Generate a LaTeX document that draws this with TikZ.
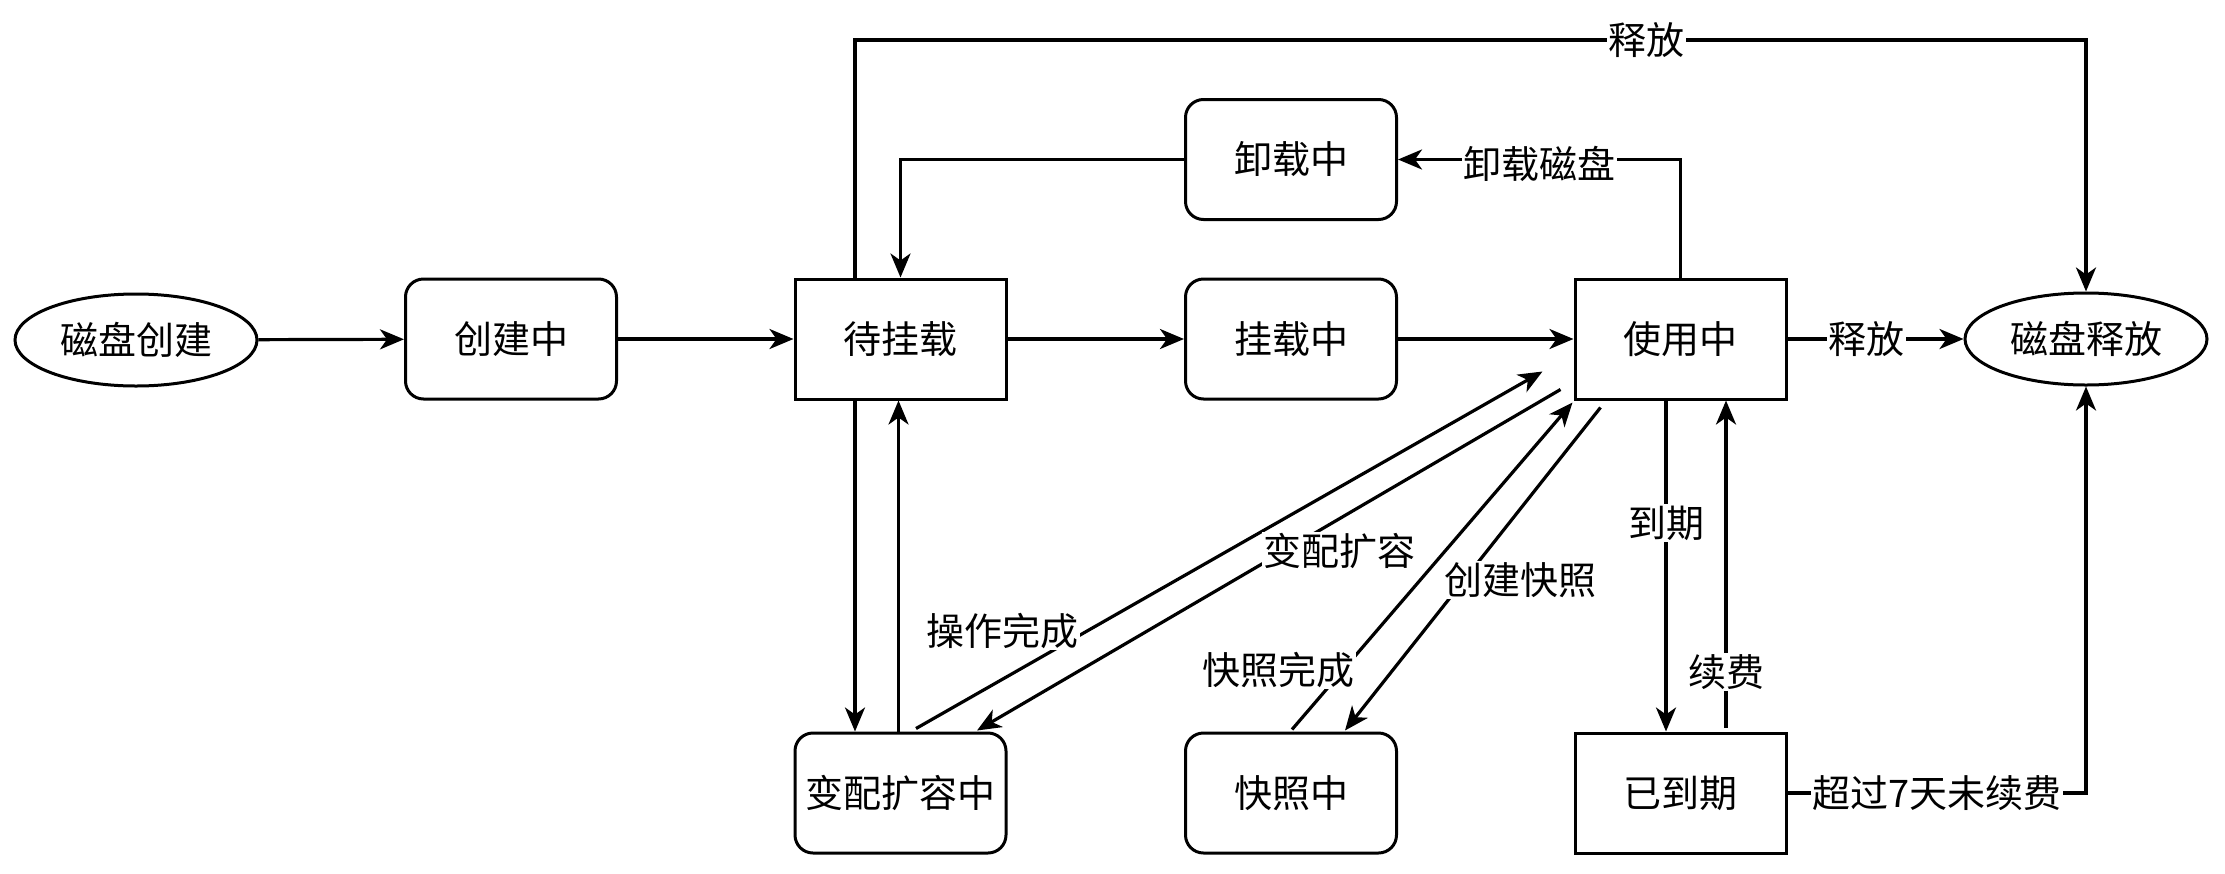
\documentclass[tikz,border=0pt]{standalone}
\usepackage{fontspec}
\setmainfont{Noto Sans CJK SC}
\usetikzlibrary{shapes.geometric,arrows.meta}
\begin{document}
\begin{tikzpicture}[x=1pt,y=-1pt,
  every node/.style={font=\fontsize{38}{44}\selectfont},
  box/.style={draw, line width=3pt, minimum width=211pt, minimum height=120pt, inner sep=0pt},
  rbox/.style={box, rounded corners=18pt},
  oval/.style={draw, ellipse, line width=3pt, minimum width=242pt, minimum height=92pt, inner sep=0pt},
  conn/.style={line width=3.2pt, -{Stealth[length=24pt,width=20pt,inset=7pt]}},
  lbl/.style={fill=white, inner sep=1.5pt}]
\useasboundingbox (0,0) rectangle (2225,873);

\node[oval] (start) at (136,340) {磁盘创建};
\node[rbox] (create) at (511,339) {创建中};
\node[box] (wait) at (900.5,339) {待挂载};
\node[rbox] (mount) at (1291,339) {挂载中};
\node[box] (use) at (1680.5,339) {使用中};
\node[oval] (rel) at (2086,339) {磁盘释放};
\node[rbox] (unmount) at (1291,159.5) {卸载中};
\node[rbox] (resize) at (900.5,793) {变配扩容中};
\node[rbox] (snap) at (1291,793) {快照中};
\node[box] (exp) at (1680.5,793) {已到期};

\coordinate (tl) at (855,40);
\coordinate (tr) at (2086,40);

\draw[conn] (start) -- (create);
\draw[conn] (create) -- (wait);
\draw[conn] (wait) -- (mount);
\draw[conn] (mount) -- (use);
\draw[conn] (use) -- node[lbl, pos=0.45]{释放} (rel);
\draw[conn] (wait.north -| tl) -- (tl) -- node[lbl, pos=0.643]{释放} (tr) -- (rel);
\draw[conn] (use.north) |- node[lbl, pos=0.75, yshift=-4pt]{卸载磁盘} (unmount.east);
\draw[conn] (unmount.west) -| (wait.north);
\draw[conn] ([xshift=-45.5pt]wait.south) -- ([xshift=-45.5pt]resize.north);
\draw[conn] ([xshift=-2pt]resize.north) -- ([xshift=-2pt]wait.south);
\draw[conn] ([shift={(15.5pt,3pt)}]resize.north) -- ([shift={(-31pt,29pt)}]use.south west);
\draw[conn] ([shift={(-13pt,11pt)}]use.south west) -- ([shift={(76.5pt,1pt)}]resize.north);
\draw[conn] ([shift={(1pt,2pt)}]snap.north) -- ([shift={(-1pt,-2pt)}]use.south west);
\draw[conn] ([shift={(27pt,-7pt)}]use.south west) -- ([shift={(54pt,1pt)}]snap.north);
\draw[conn] ([xshift=-14.5pt]use.south) -- node[lbl, pos=0.37]{到期} ([xshift=-14.5pt]exp.north);
\draw[conn] ([shift={(45.5pt,4pt)}]exp.north) -- node[lbl, pos=0.17]{续费} ([xshift=45.5pt]use.south);
\draw[conn] (exp.east) -| node[lbl, pos=0.25]{超过7天未续费} (rel.south);

\node[lbl] (l1) at (1002,631) {操作完成};
\node[lbl] (l2) at (1339,551) {变配扩容};
\node[lbl] (l3) at (1278,670) {快照完成};
\node[lbl] (l4) at (1520,580) {创建快照};
\end{tikzpicture}
\end{document}
